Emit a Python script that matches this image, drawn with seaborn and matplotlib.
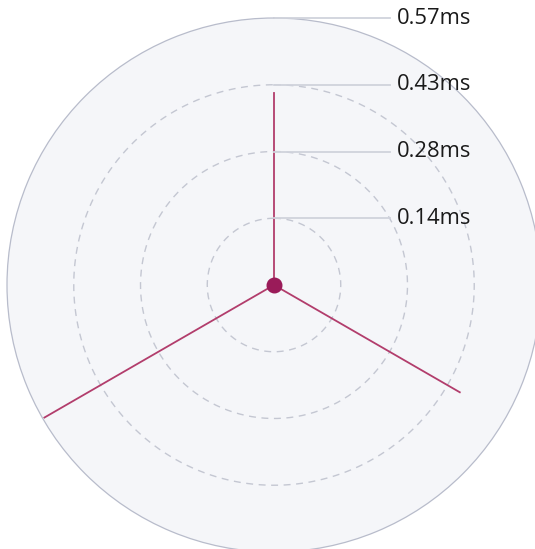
import numpy as np
import pandas as pd
import matplotlib
matplotlib.use("Agg")
import matplotlib.pyplot as plt
import seaborn as sns

# data
axis_names = ["m1", "m2", "m3"]
values = [0.410, 0.458, 0.566]          # ms
r_max = 0.57
tick_vals = [0.1425, 0.285, 0.4275, 0.57]
tick_labels = ["0.14ms", "0.28ms", "0.43ms", "0.57ms"]

plt.rcParams["font.family"] = ["Open Sans", "DejaVu Sans"]

fig = plt.figure(figsize=(5.35, 5.49), dpi=100)
ax = fig.add_axes([7 / 535, -3 / 549, 534 / 535, 534 / 549], projection="polar")
ax.set_theta_offset(np.pi / 2)
ax.set_theta_direction(-1)
ax.set_ylim(0, r_max)
ax.set_facecolor("#f5f6f9")
ax.grid(False)
ax.set_xticks([])
ax.set_yticks([])
ax.spines["polar"].set_color("#b8bccb")
ax.spines["polar"].set_linewidth(0.9)

# dashed rings
th = np.linspace(0, 2 * np.pi, 400)
for t in tick_vals[:-1]:
    ax.plot(th, np.full_like(th, t), color="#c4c7d2", lw=1.0, ls=(0, (5, 4)))

# spokes from centre to each value
angles = np.arange(len(values)) * 2 * np.pi / len(values)
rows = []
for name, a, v in zip(axis_names, angles, values):
    rows.append({"axis": name, "theta": a, "r": 0.0})
    rows.append({"axis": name, "theta": a, "r": v})
df = pd.DataFrame(rows)
sns.lineplot(data=df, x="theta", y="r", units="axis", estimator=None, sort=False,
             color="#b23d6c", lw=1.3, ax=ax, legend=False)
ax.set_xlabel("")
ax.set_ylabel("")
ax.scatter([0], [0], s=110, color="#9a1b59", zorder=5, clip_on=False)

# tick leaders + labels
for t, lab in zip(tick_vals, tick_labels):
    y = 0.5 + 0.5 * t / r_max
    ax.plot([0.5, 0.717], [y, y], transform=ax.transAxes, color="#d0d3dc",
            lw=1.3, clip_on=False, zorder=3)
    ax.text(0.731, y, lab, transform=ax.transAxes, va="center", ha="left",
            fontsize=15.8, color="#1a1a1a", clip_on=False)

fig.savefig("out.png", dpi=100)
